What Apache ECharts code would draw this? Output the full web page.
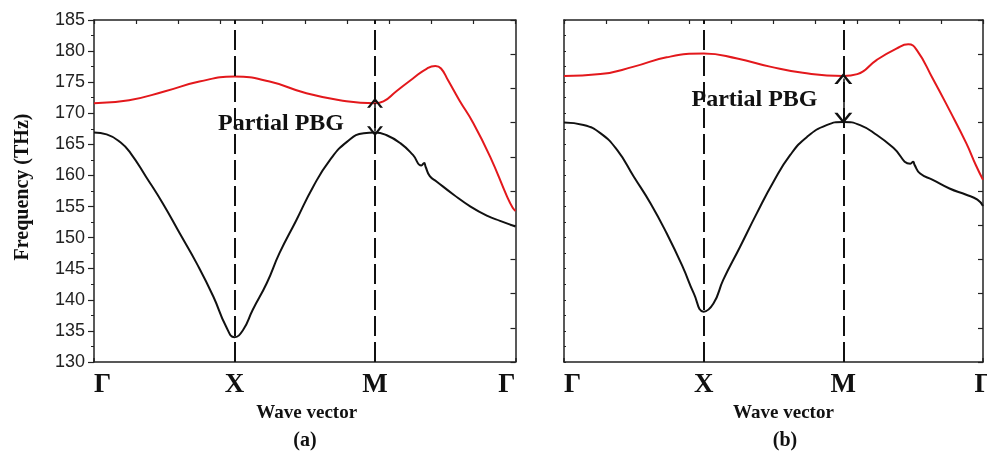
<!DOCTYPE html>
<html>
<head>
<meta charset="utf-8">
<script src="https://cdn.jsdelivr.net/npm/echarts@6/dist/echarts.min.js"></script>
<style>
  html, body { margin: 0; padding: 0; background: #fff; }
  #chart { width: 987px; height: 456px; }
</style>
</head>
<body>
<div id="chart"></div>
<script>
// High-symmetry points along the Brillouin-zone path
const pathLabels = ['Γ', 'X', 'M', 'Γ'];
const symmetryK = [1, 2];          // X and M positions (dashed guides)

// Panel (a): upper band (red)
const aUpperK = [0, 0.25, 0.5, 0.75, 1, 1.25, 1.5, 1.75, 2, 2.06, 2.15, 2.27, 2.37, 2.43, 2.47, 2.52, 2.6, 2.7, 2.82, 2.94, 2.98, 3];
const aUpperF = [171.6, 172.1, 173.5, 175.1, 175.9, 175.1, 173.3, 172.1, 171.6, 171.9, 173.5, 175.6, 177.2, 177.6, 177.2, 175.3, 172.1, 168.4, 163.0, 156.6, 154.8, 154.3];

// Panel (a): lower band (black)
const aLowerK = [0, 0.09, 0.19, 0.26, 0.37, 0.49, 0.61, 0.73, 0.85, 0.94, 1, 1.06, 1.13, 1.23, 1.32, 1.44, 1.56, 1.68, 1.8, 1.92, 2, 2.08, 2.18, 2.27, 2.33, 2.35, 2.36, 2.39, 2.44, 2.56, 2.68, 2.8, 2.89, 3];
const aLowerF = [166.9, 166.6, 165.3, 163.6, 159.8, 155.5, 150.7, 145.9, 140.5, 135.7, 134.0, 135.1, 138.4, 142.7, 147.5, 152.8, 158.2, 162.5, 165.4, 166.8, 166.9, 166.5, 165.2, 163.3, 161.6, 162.0, 161.4, 159.9, 159.0, 156.9, 155.0, 153.5, 152.7, 151.8];

// Panel (b): upper band (red)
const bUpperK = [0, 0.26, 0.5, 0.735, 1, 1.24, 1.475, 1.71, 2, 2.1, 2.24, 2.38, 2.465, 2.525, 2.64, 2.76, 2.88, 2.95, 3];
const bUpperF = [176.0, 176.3, 177.5, 179.0, 179.6, 178.8, 177.5, 176.5, 176.0, 176.3, 178.6, 180.4, 181.1, 180.2, 175.6, 170.5, 165.2, 161.6, 159.3];

// Panel (b): lower band (black)
const bLowerK = [0, 0.14, 0.26, 0.38, 0.5, 0.62, 0.735, 0.85, 0.93, 1, 1.07, 1.14, 1.26, 1.38, 1.5, 1.62, 1.74, 1.88, 2, 2.12, 2.24, 2.36, 2.48, 2.5, 2.51, 2.55, 2.64, 2.76, 2.88, 2.96, 3];
const bLowerF = [168.5, 168.1, 166.8, 164.1, 159.8, 155.5, 150.7, 145.3, 141.0, 138.1, 139.4, 143.2, 148.5, 153.9, 159.0, 163.3, 166.2, 168.1, 168.6, 168.1, 166.5, 164.4, 161.9, 162.2, 161.7, 160.3, 159.3, 157.9, 156.9, 156.1, 155.1];

// Partial band gap at M: [top edge, bottom edge]
const gapA = [171.7, 167.1];
const gapB = [175.6, 169.2];

const FREQ_MIN = 130, FREQ_MAX = 185;

const RED = '#e3181c';
const INK = '#111';
const FRAME = '#222';
const SERIF = '"Liberation Serif", "DejaVu Serif", serif';
const SANS = '"Liberation Sans", Arial, sans-serif';

const pairs = (k, f) => k.map((v, i) => [v, f[i]]);
// open "V" arrow head, tip pointing up
const chevron = 'path://M0,100 L50,0 L100,100 L82,100 L50,34 L18,100 Z';

const frameLine = { show: true, onZero: false, lineStyle: { color: FRAME, width: 1.5 } };

function bottomAxis(grid, alignMax, namePad) {
  return {
    gridIndex: grid, type: 'value', position: 'bottom',
    min: 0, max: 3, interval: 1,
    axisLine: frameLine,
    axisTick: { show: true, inside: true, length: 4, lineStyle: { color: FRAME, width: 1.5 } },
    splitLine: { show: false },
    axisLabel: {
      formatter: v => pathLabels[Math.round(v)],
      fontFamily: SERIF, fontWeight: 'bold', fontSize: 27, color: INK, margin: 10,
      alignMinLabel: 'left', alignMaxLabel: alignMax
    },
    name: 'Wave vector', nameLocation: 'middle', nameGap: 41,
    nameTextStyle: { fontFamily: SERIF, fontWeight: 'bold', fontSize: 19, color: INK, padding: namePad }
  };
}
function topAxis(grid) {
  return {
    gridIndex: grid, type: 'value', position: 'top',
    min: 0, max: 10, interval: 1,
    axisLine: frameLine,
    axisTick: { show: true, inside: true, length: 4, lineStyle: { color: FRAME, width: 1.2 } },
    axisLabel: { show: false }, splitLine: { show: false }
  };
}
function rightAxis(grid) {
  return {
    gridIndex: grid, type: 'value', position: 'right',
    min: 0, max: 10, interval: 1,
    axisLine: frameLine,
    axisTick: { show: true, inside: true, length: 5, lineStyle: { color: FRAME, width: 1.2 } },
    axisLabel: { show: false }, splitLine: { show: false }
  };
}

function bandSeries(xi, yi, k, f, color, extra) {
  return Object.assign({
    type: 'line', xAxisIndex: xi, yAxisIndex: yi,
    data: pairs(k, f), smooth: 0.5, showSymbol: false, symbol: 'none',
    lineStyle: { color: color, width: 2 }, silent: true, z: 3
  }, extra || {});
}

function guides() {
  return {
    silent: true, symbol: 'none', label: { show: false },
    lineStyle: { color: INK, width: 2, type: [20, 6] },
    data: symmetryK.map(k => ({ xAxis: k }))
  };
}
function gapArrow(gap, size) {
  const end = { symbol: chevron, symbolSize: size, symbolKeepAspect: false };
  return {
    silent: true, label: { show: false },
    symbol: [chevron, chevron], symbolSize: size,
    lineStyle: { color: INK, width: 1.5, type: 'solid' },
    data: [[
      Object.assign({ coord: [symmetryK[1], gap[0]] }, end),
      Object.assign({ coord: [symmetryK[1], gap[1]] }, end)
    ]]
  };
}

const option = {
  animation: false,
  backgroundColor: '#fff',
  grid: [
    { left: 94, right: 471.5, top: 20, bottom: 94, outerBoundsMode: 'none', containLabel: false },
    { left: 564, right: 4, top: 20, bottom: 94, outerBoundsMode: 'none', containLabel: false }
  ],
  xAxis: [
    bottomAxis(0, 'right', [0, 0, 0, 4]),
    topAxis(0),
    bottomAxis(1, 'center', [0, 0, 0, 20]),
    topAxis(1)
  ],
  yAxis: [
    {
      gridIndex: 0, type: 'value', position: 'left',
      min: FREQ_MIN, max: FREQ_MAX, interval: 5,
      axisLine: frameLine,
      axisTick: { show: true, inside: false, length: 6, lineStyle: { color: FRAME, width: 1.2 } },
      minorTick: { show: true, splitNumber: 2, length: 3, lineStyle: { color: FRAME, width: 1 } },
      splitLine: { show: false },
      axisLabel: { fontFamily: SANS, fontSize: 18, color: '#222', margin: 9 },
      name: 'Frequency (THz)', nameLocation: 'middle', nameRotate: 90, nameGap: 61,
      nameTextStyle: { fontFamily: SERIF, fontWeight: 'bold', fontSize: 20, color: INK, padding: [0, 0, 0, 8] }
    },
    rightAxis(0),
    {
      gridIndex: 1, type: 'value', position: 'left',
      min: FREQ_MIN, max: FREQ_MAX, interval: 2.5,
      axisLine: frameLine,
      axisTick: { show: true, inside: true, length: 2, lineStyle: { color: FRAME, width: 1 } },
      axisLabel: { show: false }, splitLine: { show: false }
    },
    rightAxis(1)
  ],
  series: [
    bandSeries(0, 0, aLowerK, aLowerF, INK, { markLine: guides() }),
    bandSeries(0, 0, aUpperK, aUpperF, RED, { markLine: gapArrow(gapA, [16, 10]) }),
    bandSeries(2, 2, bLowerK, bLowerF, INK, { markLine: guides() }),
    bandSeries(2, 2, bUpperK, bUpperF, RED, { markLine: gapArrow(gapB, [18, 11]) })
  ],
  graphic: [
    { type: 'text', x: 281, y: 123.5, z: 10,
      style: { text: 'Partial PBG', font: 'bold 24px ' + SERIF, fill: INK, align: 'center', verticalAlign: 'middle' } },
    { type: 'text', x: 754.5, y: 100, z: 10,
      style: { text: 'Partial PBG', font: 'bold 24px ' + SERIF, fill: INK, align: 'center', verticalAlign: 'middle' } },
    { type: 'text', x: 305, y: 441,
      style: { text: '(a)', font: 'bold 20px ' + SERIF, fill: INK, align: 'center', verticalAlign: 'middle' } },
    { type: 'text', x: 785, y: 441,
      style: { text: '(b)', font: 'bold 20px ' + SERIF, fill: INK, align: 'center', verticalAlign: 'middle' } }
  ]
};

const chart = echarts.init(document.getElementById('chart'), null, { renderer: 'canvas' });
chart.setOption(option);
</script>
</body>
</html>
